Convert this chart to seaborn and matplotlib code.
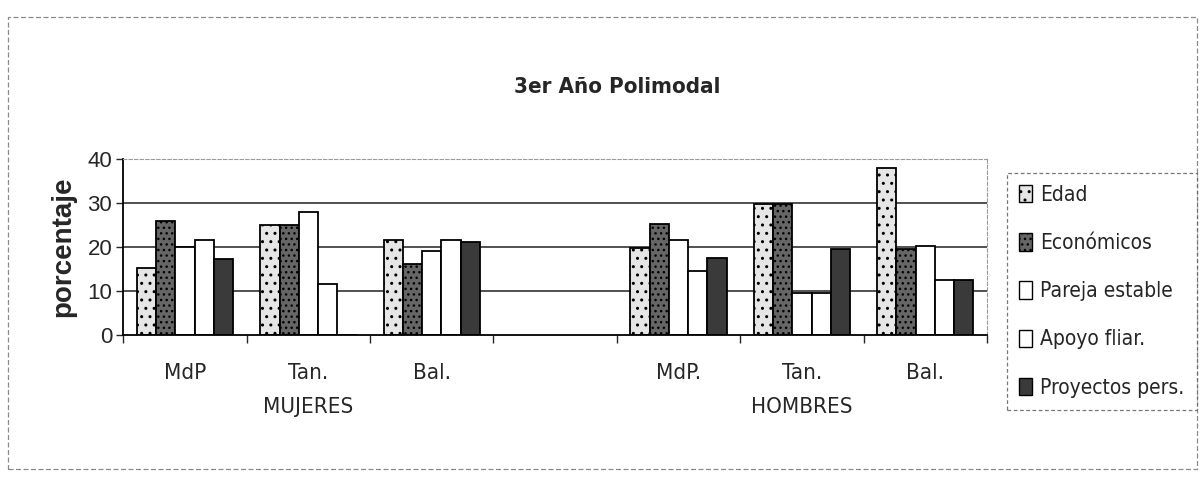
import numpy as np
import pandas as pd
import seaborn as sns
import matplotlib.pyplot as plt
from matplotlib import font_manager as fm
from matplotlib.patches import Rectangle, Patch

sns.set_theme(style="white")

# narrow face for the squeezed Excel labels, if one is installed
names = {f.name for f in fm.fontManager.ttflist}
narrow = {'family': 'Liberation Sans'}
if 'Liberation Sans Narrow' in names:
    narrow = {'family': 'Liberation Sans Narrow'}
else:
    p = fm.findfont(fm.FontProperties(family='DejaVu Sans', stretch='condensed'))
    if 'Condensed' in p:
        narrow = {'family': 'DejaVu Sans', 'stretch': 'condensed'}
plt.rcParams['font.family'] = ['Liberation Sans', 'DejaVu Sans']

# categories (one empty slot between the two groups)
cat_keys   = ['MdP_M', 'Tan_M', 'Bal_M', 'gap', 'MdP_H', 'Tan_H', 'Bal_H']
cat_labels = ['MdP', 'Tan.', 'Bal.', '', 'MdP.', 'Tan.', 'Bal.']
data_keys  = ['MdP_M', 'Tan_M', 'Bal_M', 'MdP_H', 'Tan_H', 'Bal_H']

series = ['Edad', 'Económicos', 'Pareja estable', 'Apoyo fliar.', 'Proyectos pers.']
edad       = [15.3, 25.0, 21.5, 19.8, 29.8, 38.0]
economicos = [25.9, 25.0, 16.0, 25.2, 29.8, 19.5]
pareja     = [20.0, 27.9, 19.0, 21.6, 9.5, 20.2]
apoyo      = [21.6, 11.5, 21.5, 14.5, 9.5, 12.5]
proyectos  = [17.2, 0.0, 21.0, 17.5, 19.5, 12.5]

values = [edad, economicos, pareja, apoyo, proyectos]
rows = []
for s, vals in zip(series, values):
    for k, v in zip(data_keys, vals):
        rows.append({'cat': k, 'serie': s, 'valor': v})
df = pd.DataFrame(rows)

face  = {'Edad': '#e6e6e6', 'Económicos': '#666666', 'Pareja estable': 'white',
         'Apoyo fliar.': 'white', 'Proyectos pers.': '#3a3a3a'}
hatch = {'Edad': '..', 'Económicos': '...', 'Pareja estable': '',
         'Apoyo fliar.': '', 'Proyectos pers.': ''}

fig = plt.figure(figsize=(12.03, 4.86), dpi=100)
ax = fig.add_axes([0.1025, 0.311, 0.718, 0.362])

sns.barplot(data=df, x='cat', y='valor', hue='serie', order=cat_keys,
            hue_order=series, palette=face, width=0.78, edgecolor='black',
            linewidth=1.3, legend=False, ax=ax)

for cont, s in zip(ax.containers, series):
    for bar in cont:
        bar.set_hatch(hatch[s])

ax.set_ylim(0, 40)
ax.set_yticks([0, 10, 20, 30, 40])
ax.tick_params(axis='y', labelsize=16, length=5, direction='out', left=True,
               width=1, pad=3)
for y in [10, 20, 30]:
    ax.axhline(y, color='#222222', linewidth=1.1, zorder=0)

ax.set_xlim(-0.5, len(cat_keys) - 0.5)
ax.set_xticks(range(len(cat_keys)))
ax.set_xticklabels(cat_labels, fontsize=16, **narrow)
ax.set_xticks(np.arange(-0.5, len(cat_keys), 1), minor=True)
ax.tick_params(axis='x', which='major', length=0, pad=20)
ax.tick_params(axis='x', which='minor', length=6, direction='out', bottom=True, width=1)

ax.set_xlabel('')
ax.set_ylabel('porcentaje', fontsize=20, fontweight='bold', labelpad=8)

for side in ['left', 'bottom']:
    ax.spines[side].set_color('black')
    ax.spines[side].set_linewidth(1.3)
for side in ['top', 'right']:
    ax.spines[side].set_color('#9a9a9a')
    ax.spines[side].set_linestyle((0, (3, 2)))
    ax.spines[side].set_linewidth(0.8)

# group labels
ax.text(1, -0.41, 'MUJERES', transform=ax.get_xaxis_transform(), ha='center',
        va='center', fontsize=16, **narrow)
ax.text(5, -0.41, 'HOMBRES', transform=ax.get_xaxis_transform(), ha='center',
        va='center', fontsize=16, **narrow)

fig.text(0.513, 0.82, '3er Año Polimodal', ha='center', va='center',
         fontsize=16, fontweight='bold', **narrow)

handles = [Patch(facecolor=face[s], edgecolor='black', hatch=hatch[s], label=s)
           for s in series]
leg = fig.legend(handles=handles, loc='upper left', bbox_to_anchor=(0.837, 0.645),
                 prop=dict(size=15, **narrow), frameon=True, fancybox=False,
                 handlelength=0.6, handleheight=0.9, handletextpad=0.4,
                 labelspacing=1.35, borderpad=0.6, borderaxespad=0)
leg.get_frame().set_edgecolor('#555555')
leg.get_frame().set_linestyle((0, (3, 2)))
leg.get_frame().set_linewidth(0.9)

# outer chart border
fig.patches.append(Rectangle((0.007, 0.035), 0.988, 0.93, transform=fig.transFigure,
                             fill=False, edgecolor='#8a8a8a', linewidth=0.9,
                             linestyle=(0, (4, 2))))

fig.savefig('out.png', dpi=100)
